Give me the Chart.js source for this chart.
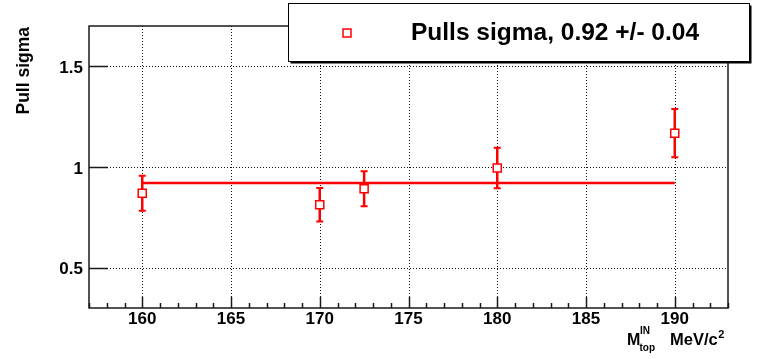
<!DOCTYPE html>
<html>
<head>
<meta charset="utf-8">
<script src="https://cdn.jsdelivr.net/npm/chart.js@4/dist/chart.umd.min.js"></script>
<style>
  html, body { margin: 0; padding: 0; background: #fff; }
  #wrap { width: 757px; height: 359px; }
</style>
</head>
<body>
<div id="wrap"><canvas id="c" width="757" height="359"></canvas></div>
<script>
// Input top mass points (MeV/c^2) and the fitted width of the pull distribution
const massPoints = [160, 170, 172.5, 180, 190];
const pullSigma = [0.87, 0.813, 0.892, 0.995, 1.168];
const pullSigmaErr = [0.087, 0.083, 0.087, 0.10, 0.12];

// Constant fit over the mass range
const fitValue = 0.92;
const fitError = 0.04;
const fitRange = [160, 190];

// Axis ticks
const xMajorTicks = [160, 165, 170, 175, 180, 185, 190];
const yMajorTicks = [0.5, 1, 1.5];
const xTickLabels = ['160', '165', '170', '175', '180', '185', '190'];
const yTickLabels = ['0.5', '1', '1.5'];

const legendText = 'Pulls sigma, ' + fitValue.toFixed(2) + ' +/- ' + fitError.toFixed(2);
const RED = '#ff0000';
const FONT = '"Liberation Sans", Arial, Helvetica, sans-serif';

const rootStyle = {
  id: 'rootStyle',
  beforeDatasetsDraw(chart) {
    const { ctx, chartArea: a, scales: { x, y } } = chart;
    ctx.save();
    // dotted grid at the major ticks
    ctx.strokeStyle = '#111';
    ctx.lineWidth = 1;
    ctx.setLineDash([1, 2]);
    xMajorTicks.forEach(v => {
      const px = Math.round(x.getPixelForValue(v)) + 0.5;
      ctx.beginPath(); ctx.moveTo(px, a.top); ctx.lineTo(px, a.bottom); ctx.stroke();
    });
    yMajorTicks.forEach(v => {
      const py = Math.round(y.getPixelForValue(v)) + 0.5;
      ctx.beginPath(); ctx.moveTo(a.left, py); ctx.lineTo(a.right, py); ctx.stroke();
    });
    ctx.setLineDash([]);
    // error bars with small end caps
    ctx.strokeStyle = RED;
    massPoints.forEach((m, i) => {
      const px = x.getPixelForValue(m);
      const top = y.getPixelForValue(pullSigma[i] + pullSigmaErr[i]);
      const bot = y.getPixelForValue(pullSigma[i] - pullSigmaErr[i]);
      ctx.lineWidth = 2.5;
      ctx.beginPath(); ctx.moveTo(px, top); ctx.lineTo(px, bot); ctx.stroke();
      ctx.lineWidth = 2;
      ctx.beginPath();
      ctx.moveTo(px - 3.5, top); ctx.lineTo(px + 3.5, top);
      ctx.moveTo(px - 3.5, bot); ctx.lineTo(px + 3.5, bot);
      ctx.stroke();
    });
    ctx.restore();
  },
  afterDatasetsDraw(chart) {
    const { ctx, chartArea: a, scales: { x, y } } = chart;
    ctx.save();
    // frame
    ctx.strokeStyle = '#1a1a1a';
    ctx.lineWidth = 1.5;
    ctx.strokeRect(a.left, a.top, a.right - a.left, a.bottom - a.top);

    // tick marks pointing into the frame
    ctx.lineWidth = 1.5;
    ctx.beginPath();
    for (let v = Math.ceil(x.min); v <= x.max; v += 1) {
      const px = Math.round(x.getPixelForValue(v)) + 0.5;
      const len = xMajorTicks.includes(v) ? 11 : 5;
      ctx.moveTo(px, a.bottom); ctx.lineTo(px, a.bottom - len);
    }
    yMajorTicks.forEach(v => {
      const py = Math.round(y.getPixelForValue(v)) + 0.5;
      ctx.moveTo(a.left, py); ctx.lineTo(a.left + 19, py);
    });
    ctx.stroke();

    // tick labels
    ctx.fillStyle = '#000';
    ctx.font = 'bold 17px ' + FONT;
    ctx.textAlign = 'center';
    ctx.textBaseline = 'alphabetic';
    xMajorTicks.forEach((v, i) => ctx.fillText(xTickLabels[i], x.getPixelForValue(v), 324));
    ctx.textAlign = 'right';
    yMajorTicks.forEach((v, i) => ctx.fillText(yTickLabels[i], 83, y.getPixelForValue(v) + 6.5));

    // y axis title
    ctx.save();
    ctx.translate(29, 27);
    ctx.rotate(-Math.PI / 2);
    ctx.textAlign = 'right';
    ctx.font = 'bold 17.5px ' + FONT;
    ctx.fillText('Pull sigma', 0, 0);
    ctx.restore();

    // x axis title: M_top^IN  MeV/c^2
    ctx.textAlign = 'left';
    ctx.font = 'bold 16px ' + FONT;
    ctx.fillText('M', 627, 345);
    ctx.font = 'bold 10px ' + FONT;
    ctx.fillText('IN', 640, 334);
    ctx.fillText('top', 639.5, 351);
    ctx.font = 'bold 16.5px ' + FONT;
    ctx.fillText('MeV/c', 670, 345);
    const unitEnd = 670 + ctx.measureText('MeV/c').width;
    ctx.font = 'bold 11px ' + FONT;
    ctx.fillText('2', unitEnd + 0.5, 338);

    // legend box with shadow
    const lx = 288.5, ly = 3.5, lw = 461, lh = 58;
    ctx.fillStyle = '#000';
    ctx.fillRect(lx + 2, ly + 2, lw, lh);
    ctx.fillStyle = '#fff';
    ctx.fillRect(lx, ly, lw, lh);
    ctx.strokeStyle = '#000';
    ctx.lineWidth = 1;
    ctx.strokeRect(lx, ly, lw, lh);
    ctx.strokeStyle = RED;
    ctx.lineWidth = 1.5;
    ctx.strokeRect(343, 29, 8, 8);
    ctx.fillStyle = '#000';
    ctx.font = 'bold 24.5px ' + FONT;
    ctx.textAlign = 'left';
    ctx.fillText(legendText, 411, 40);
    ctx.restore();
  }
};

new Chart(document.getElementById('c'), {
  type: 'scatter',
  data: {
    datasets: [
      {
        label: 'fit',
        type: 'line',
        order: 0,
        data: fitRange.map(m => ({ x: m, y: fitValue })),
        borderColor: RED,
        borderWidth: 2.5,
        pointRadius: 0,
        fill: false
      },
      {
        label: 'Pulls sigma',
        order: 1,
        data: massPoints.map((m, i) => ({ x: m, y: pullSigma[i] })),
        pointStyle: 'rect',
        pointRadius: 5.7,
        pointBorderWidth: 1.5,
        pointBorderColor: RED,
        pointBackgroundColor: '#fff'
      }
    ]
  },
  options: {
    responsive: false,
    animation: false,
    devicePixelRatio: 1,
    layout: { padding: { left: 89, top: 26, right: 29, bottom: 51 } },
    plugins: { legend: { display: false }, tooltip: { enabled: false } },
    scales: {
      x: { type: 'linear', min: 157, max: 193, display: false },
      y: { type: 'linear', min: 0.3, max: 1.7, display: false }
    }
  },
  plugins: [rootStyle]
});
</script>
</body>
</html>
